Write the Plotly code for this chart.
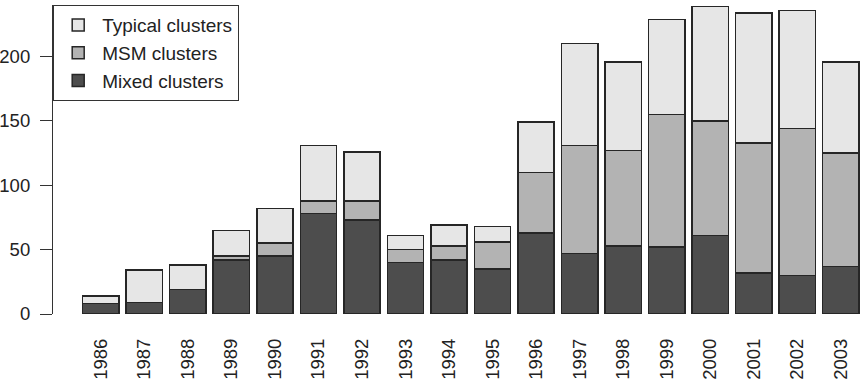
import plotly.graph_objects as go

years = ["1986", "1987", "1988", "1989", "1990", "1991", "1992", "1993", "1994",
         "1995", "1996", "1997", "1998", "1999", "2000", "2001", "2002", "2003"]
mixed = [8, 9, 19, 42, 45, 78, 73, 40, 42, 35, 63, 47, 53, 52, 61, 32, 30, 37]
msm = [0, 0, 0, 3, 10, 10, 15, 10, 11, 21, 47, 84, 74, 103, 89, 101, 114, 88]
typical = [6, 25, 19, 20, 27, 43, 38, 11, 16, 12, 39, 79, 69, 74, 89, 101, 92, 71]
y_ticks = [0, 50, 100, 150, 200]

FONT = "Liberation Sans, Arial, sans-serif"
OUTLINE = dict(color="#262626", width=1.5)

fig = go.Figure()
fig.add_bar(x=years, y=mixed, name="Mixed clusters",
            marker=dict(color="#4d4d4d", line=OUTLINE))
fig.add_bar(x=years, y=msm, name="MSM clusters",
            marker=dict(color="#b3b3b3", line=OUTLINE))
fig.add_bar(x=years, y=typical, name="Typical clusters",
            marker=dict(color="#e6e6e6", line=OUTLINE))

fig.update_layout(
    width=863, height=387,
    margin=dict(l=53, r=0, t=5, b=72.7, autoexpand=False),
    barmode="stack", bargap=0.166,
    plot_bgcolor="white", paper_bgcolor="white",
    font=dict(family=FONT, size=19, color="#222222"),
    showlegend=True,
    legend=dict(x=53 / 863, y=1 - 5 / 387, xanchor="left", yanchor="top",
                xref="container", yref="container",
                traceorder="reversed", itemwidth=38,
                bgcolor="white", bordercolor="#333333", borderwidth=1.2,
                font=dict(family=FONT, size=19, color="#222222")),
)
fig.update_xaxes(
    type="category", range=[-1.098, 17.51],
    showline=False, showgrid=False, zeroline=False,
    ticks="", tickangle=-90, ticklabelstandoff=20,
    tickfont=dict(family=FONT, size=18.5, color="#222222"),
)
fig.update_yaxes(
    range=[0, 240.1], tickvals=y_ticks, ticktext=[str(v) for v in y_ticks],
    showline=True, linecolor="#333333", linewidth=1.2,
    ticks="outside", ticklen=12, tickcolor="#333333", tickwidth=1.2,
    ticklabelstandoff=6,
    showgrid=False, zeroline=False,
    tickfont=dict(family=FONT, size=18.5, color="#222222"),
)

fig.write_html("out.html")
